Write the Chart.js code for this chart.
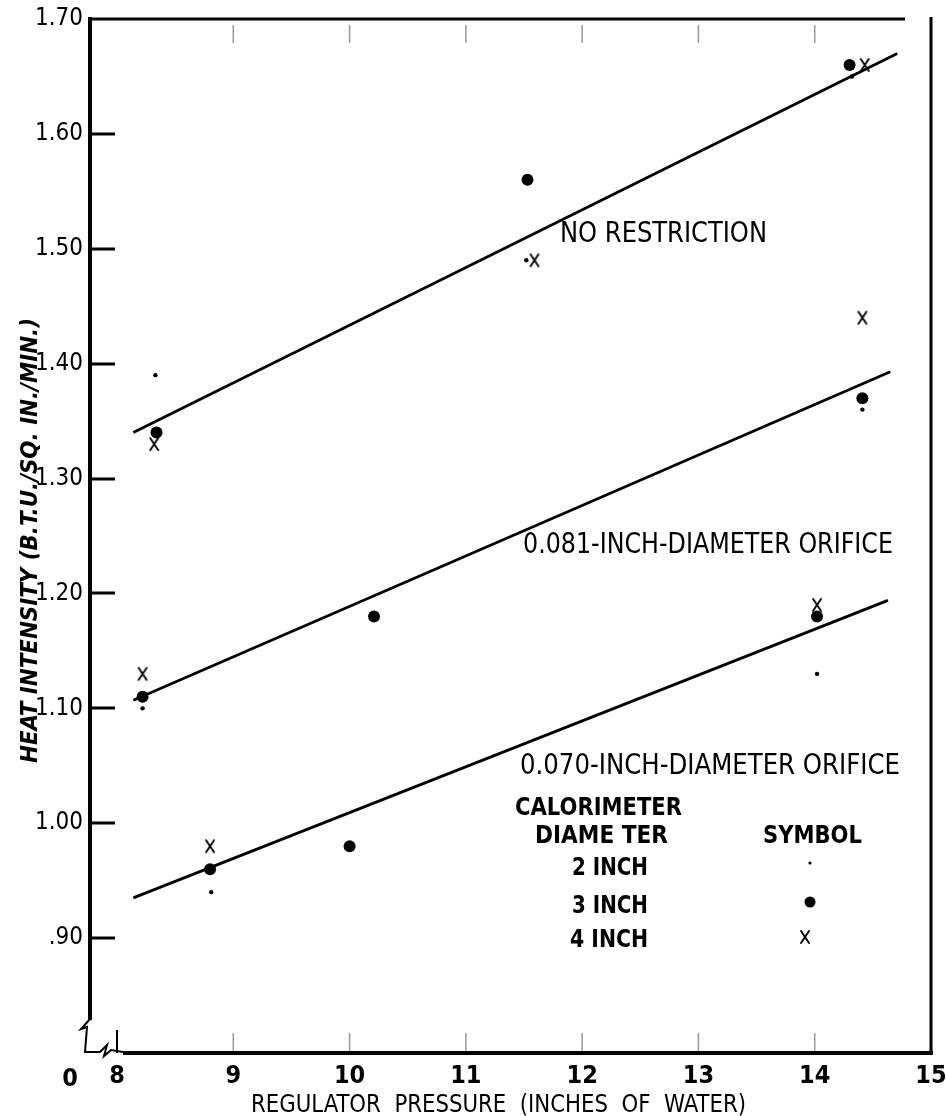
<!DOCTYPE html>
<html>
<head>
<meta charset="utf-8">
<script src="https://cdn.jsdelivr.net/npm/chart.js@4.4.1/dist/chart.umd.min.js"></script>
<style>
    html, body { margin: 0; padding: 0; background: #ffffff; }
    #wrap { position: relative; width: 946px; height: 1116px; }
</style>
</head>
<body>
<div id="wrap"><canvas id="heatChart"></canvas></div>
<script>
// regulator pressure (in. of water) vs heat intensity, one series per calorimeter size
const twoInchX = [8.33, 11.52, 14.32, 8.22, 14.41, 8.81, 14.02];
const twoInchY = [1.39, 1.49, 1.65, 1.10, 1.36, 0.94, 1.13];

const threeInchX = [8.34, 11.53, 14.30, 8.22, 10.21, 14.41, 8.80, 10.00, 14.02];
const threeInchY = [1.34, 1.56, 1.66, 1.11, 1.18, 1.37, 0.96, 0.98, 1.18];

const fourInchX = [8.32, 11.59, 14.43, 8.22, 14.41, 8.80, 14.02];
const fourInchY = [1.33, 1.49, 1.66, 1.13, 1.44, 0.98, 1.19];

// faired lines, start and end of each
const lineNames = ['NO RESTRICTION', '0.081-INCH-DIAMETER ORIFICE', '0.070-INCH-DIAMETER ORIFICE'];
const lineX = [[8.14, 14.71], [8.14, 14.65], [8.14, 14.63]];
const lineY = [[1.34, 1.67], [1.107, 1.393], [0.935, 1.194]];

const xTickValues = [8, 9, 10, 11, 12, 13, 14, 15];
const xTickLabels = ['8', '9', '10', '11', '12', '13', '14', '15'];
const yTickValues = [0.9, 1.0, 1.1, 1.2, 1.3, 1.4, 1.5, 1.6, 1.7];
const yTickLabels = ['.90', '1.00', '1.10', '1.20', '1.30', '1.40', '1.50', '1.60', '1.70'];

const legendTitle = ['CALORIMETER', 'DIAME TER'];
const legendLabels = ['2 INCH', '3 INCH', '4 INCH'];

const NARROW = "'Liberation Sans Narrow', 'DejaVu Sans Condensed', 'Liberation Sans', sans-serif";
const WIDE = "'Liberation Sans', 'DejaVu Sans', sans-serif";

function toPoints(xs, ys)
{
    return xs.map((x, i) => ({ x: x, y: ys[i] }));
}

// the typed "X" used for the 4-inch calorimeter
function makeCross()
{
    const c = document.createElement('canvas');
    c.width = 12; c.height = 16;
    const g = c.getContext('2d');
    g.strokeStyle = '#000';
    g.lineWidth = 1.9;
    g.lineCap = 'round';
    g.beginPath();
    g.moveTo(2, 2); g.lineTo(10, 14);
    g.moveTo(10, 2); g.lineTo(2, 14);
    g.stroke();
    return c;
}
const crossImg = makeCross();

// squeeze or stretch a string to a measured width
function fitText(ctx, text, left, baseline, width, font)
{
    ctx.save();
    ctx.font = font;
    ctx.textAlign = 'left';
    ctx.textBaseline = 'alphabetic';
    const w = ctx.measureText(text).width;
    ctx.translate(left, baseline);
    ctx.scale(width / w, 1);
    ctx.fillText(text, 0, 0);
    ctx.restore();
}

const framePlugin = {
    id: 'frame',
    afterDraw(chart)
    {
        const ctx = chart.ctx;
        const xs = chart.scales.x;
        const ys = chart.scales.y;
        const a = chart.chartArea;

        ctx.save();
        ctx.strokeStyle = '#000';
        ctx.fillStyle = '#000';
        ctx.lineCap = 'butt';

        // frame: top, right, left axis, bottom axis
        ctx.lineWidth = 3;
        ctx.beginPath();
        ctx.moveTo(a.left, a.top); ctx.lineTo(905, a.top);
        ctx.moveTo(a.right, a.top - 2); ctx.lineTo(a.right, a.bottom);
        ctx.stroke();

        ctx.lineWidth = 4;
        ctx.beginPath();
        ctx.moveTo(a.left, a.top - 2); ctx.lineTo(a.left, a.bottom - 33);
        ctx.moveTo(xs.getPixelForValue(8) + 6, a.bottom); ctx.lineTo(a.right + 2, a.bottom);
        ctx.stroke();

        // axis break
        ctx.lineWidth = 2;
        ctx.beginPath();
        ctx.moveTo(a.left, a.bottom - 34);
        ctx.lineTo(a.left - 9, a.bottom - 24);
        ctx.lineTo(a.left - 3, a.bottom - 26);
        ctx.lineTo(a.left - 5, a.bottom - 1);
        ctx.lineTo(a.left + 10, a.bottom - 1);
        ctx.lineTo(a.left + 17, a.bottom - 8);
        ctx.lineTo(a.left + 14, a.bottom + 3);
        ctx.lineTo(a.left + 21, a.bottom - 3);
        ctx.lineTo(xs.getPixelForValue(8) + 6, a.bottom - 1);
        ctx.moveTo(xs.getPixelForValue(8), a.bottom - 23);
        ctx.lineTo(xs.getPixelForValue(8), a.bottom);
        ctx.stroke();

        // inner ticks on the left axis
        ctx.lineWidth = 3;
        ctx.beginPath();
        yTickValues.slice(0, -1).forEach(v =>
        {
            const py = Math.round(ys.getPixelForValue(v));
            ctx.moveTo(a.left, py);
            ctx.lineTo(a.left + 25, py);
        });
        ctx.stroke();

        // light inner ticks top and bottom
        ctx.strokeStyle = '#9a9a9a';
        ctx.lineWidth = 1.5;
        ctx.beginPath();
        xTickValues.slice(1, -1).forEach(v =>
        {
            const px = xs.getPixelForValue(v);
            ctx.moveTo(px, a.top + 6); ctx.lineTo(px, a.top + 24);
            ctx.moveTo(px, a.bottom - 20); ctx.lineTo(px, a.bottom - 2);
        });
        ctx.stroke();

        // the zero of the broken axis
        ctx.font = 'bold 25px ' + NARROW;
        ctx.textAlign = 'center';
        ctx.textBaseline = 'alphabetic';
        ctx.fillText('0', 70, 1086);

        // line labels
        const lf = '28px ' + NARROW;
        fitText(ctx, lineNames[0], 560, 242, 207, lf);
        fitText(ctx, lineNames[1], 523, 553, 370, lf);
        fitText(ctx, lineNames[2], 520, 774, 380, lf);

        // key
        const kf = 'bold 25px ' + NARROW;
        fitText(ctx, legendTitle[0], 515, 815, 167, kf);
        fitText(ctx, legendTitle[1], 535, 843, 133, kf);
        fitText(ctx, 'SYMBOL', 763, 843, 99, kf);
        fitText(ctx, legendLabels[0], 572, 875, 76, kf);
        fitText(ctx, legendLabels[1], 572, 913, 76, kf);
        fitText(ctx, legendLabels[2], 570, 947, 78, kf);

        ctx.beginPath();
        ctx.arc(810, 863, 1.6, 0, Math.PI * 2);
        ctx.fill();
        ctx.beginPath();
        ctx.arc(810, 902, 5.5, 0, Math.PI * 2);
        ctx.fill();
        ctx.drawImage(crossImg, 799, 929);

        // axis titles
        fitText(ctx, 'REGULATOR  PRESSURE  (INCHES  OF  WATER)', 251, 1112, 495, '24px ' + NARROW);

        ctx.save();
        ctx.translate(37, 763);
        ctx.rotate(-Math.PI / 2);
        fitText(ctx, 'HEAT INTENSITY (B.T.U./SQ. IN./MIN.)', 0, 0, 445, 'italic bold 23px ' + NARROW);
        ctx.restore();

        ctx.restore();
    }
};

const lineSets = lineNames.map((name, i) => ({
    type: 'line',
    label: name,
    data: toPoints(lineX[i], lineY[i]),
    borderColor: '#000',
    borderWidth: 2.8,
    pointRadius: 0,
    tension: 0
}));

new Chart(document.getElementById('heatChart'), {
    type: 'scatter',
    data:
    {
        datasets:
        [
            ...lineSets,
            {
                label: '2 INCH',
                data: toPoints(twoInchX, twoInchY),
                pointStyle: 'circle',
                pointRadius: 2.2,
                backgroundColor: '#000',
                borderWidth: 0
            },
            {
                label: '3 INCH',
                data: toPoints(threeInchX, threeInchY),
                pointStyle: 'circle',
                pointRadius: 6,
                backgroundColor: '#000',
                borderWidth: 0
            },
            {
                label: '4 INCH',
                data: toPoints(fourInchX, fourInchY),
                pointStyle: crossImg,
                pointRadius: 6
            }
        ]
    },
    options:
    {
        responsive: true,
        maintainAspectRatio: false,
        animation: false,
        layout: { padding: { top: 19, right: 15, bottom: 0, left: 0 } },
        plugins: { legend: { display: false }, tooltip: { enabled: false } },
        scales:
        {
            x:
            {
                type: 'linear',
                min: 7.7677,
                max: 15,
                grid: { display: false, drawTicks: false },
                border: { display: false },
                afterBuildTicks: s => { s.ticks = xTickValues.map(v => ({ value: v })); },
                afterFit: s => { s.height = 63; s.paddingLeft = 0; s.paddingRight = 0; },
                ticks:
                {
                    padding: 8,
                    color: '#000',
                    maxRotation: 0,
                    autoSkip: false,
                    font: { family: NARROW, size: 25, weight: 'bold' },
                    callback: v => xTickLabels[xTickValues.indexOf(v)]
                }
            },
            y:
            {
                type: 'linear',
                min: 0.8,
                max: 1.7,
                grid: { display: false, drawTicks: false },
                border: { display: false },
                afterBuildTicks: s => { s.ticks = yTickValues.map(v => ({ value: v })); },
                afterFit: s => { s.width = 90; s.paddingTop = 0; s.paddingBottom = 0; },
                ticks:
                {
                    padding: 7,
                    color: '#000',
                    autoSkip: false,
                    font: { family: NARROW, size: 24 },
                    callback: v =>
                    {
                        const i = yTickValues.findIndex(t => Math.abs(t - v) < 1e-6);
                        return i < 0 ? '' : yTickLabels[i];
                    }
                }
            }
        }
    },
    plugins: [framePlugin]
});
</script>
</body>
</html>
